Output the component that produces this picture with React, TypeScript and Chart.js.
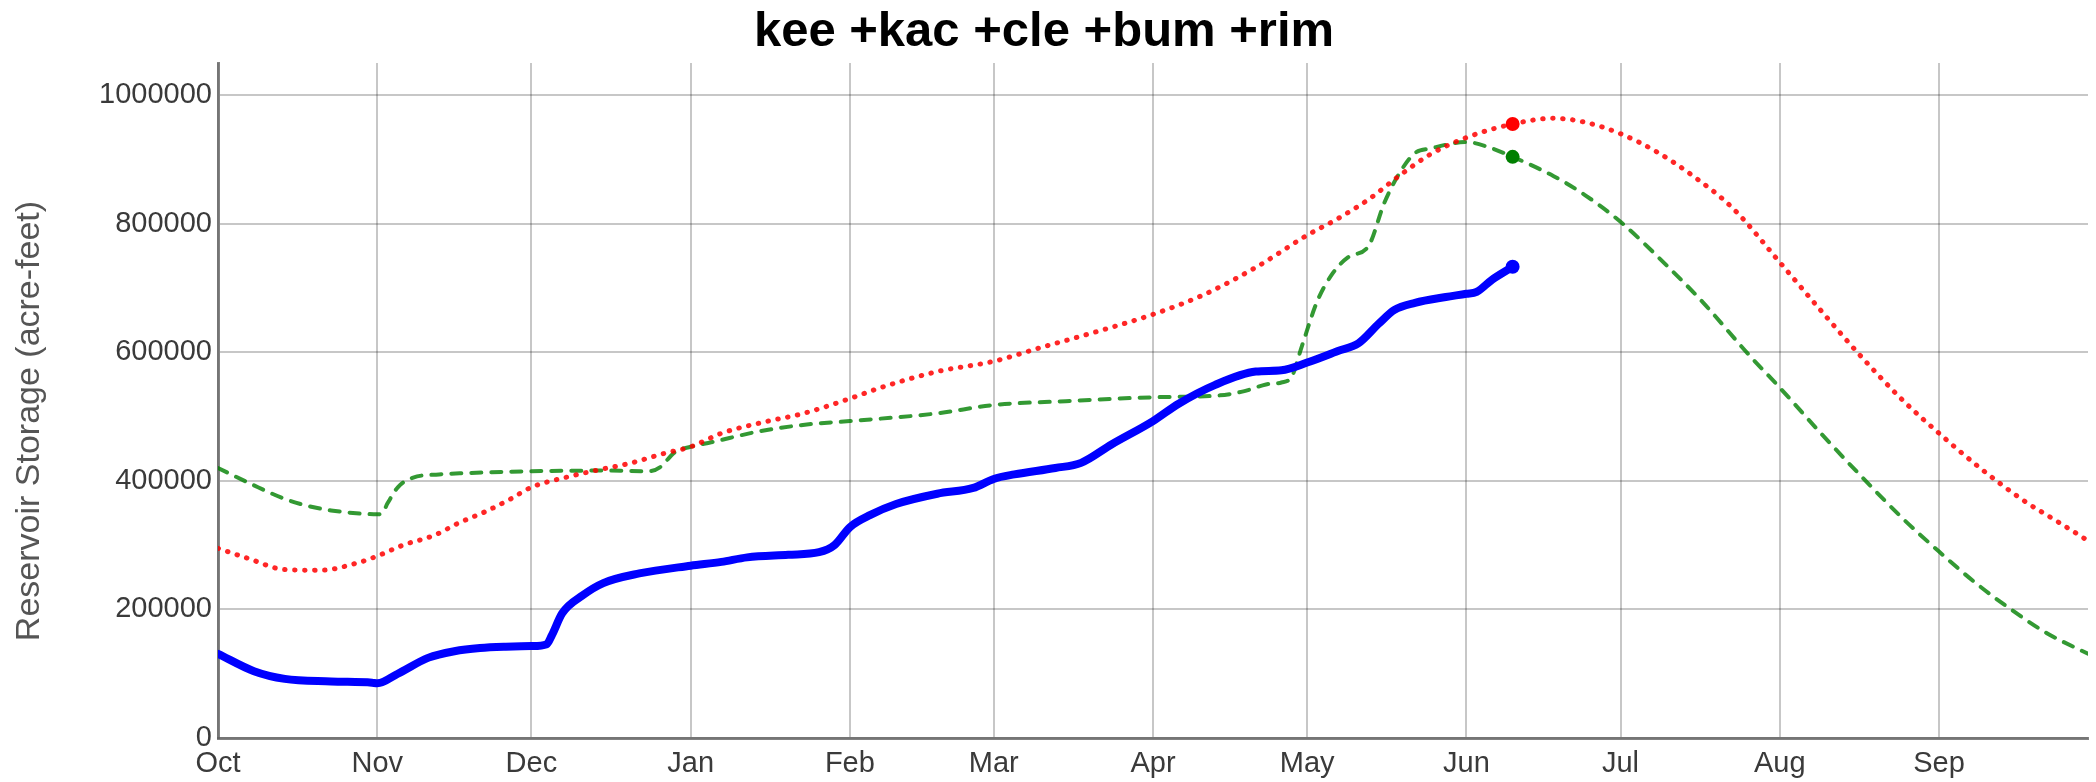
import React, { useEffect, useRef } from "react";
import { Chart, registerables } from "chart.js";

Chart.register(...registerables);

const titleText = "kee +kac +cle +bum +rim";
const yAxisTitle = "Reservoir Storage (acre-feet)";

// Water-year day index (Oct 1 = 0)
const monthStarts = [0, 31, 61, 92, 123, 151, 182, 212, 243, 273, 304, 335];
const monthLabels = ["Oct", "Nov", "Dec", "Jan", "Feb", "Mar", "Apr", "May", "Jun", "Jul", "Aug", "Sep"];
const yTicks = [0, 200000, 400000, 600000, 800000, 1000000];

// Current year (blue, solid)
const blueDays = [0, 7, 13, 22, 30, 31, 35, 41, 46, 51, 56, 61, 64, 65, 67, 71, 75, 82, 92, 98, 103, 111, 117, 120, 123, 127, 132, 140, 147, 151, 155, 163, 168, 174, 182, 187, 194, 202, 207, 212, 218, 222, 226, 229, 233, 239, 243, 245, 248, 252];
const blueValues = [131000, 104000, 92000, 88000, 86000, 85000, 100000, 125000, 135000, 140000, 142000, 143000, 146000, 160000, 194000, 222000, 241000, 256000, 268000, 274000, 281000, 285000, 289000, 300000, 328000, 347000, 364000, 380000, 389000, 403000, 410000, 420000, 428000, 457000, 493000, 520000, 549000, 570000, 572000, 584000, 602000, 614000, 645000, 666000, 677000, 686000, 691000, 694000, 713000, 733000];

// Average (red, dotted)
const redDays = [0, 6, 13, 20, 27, 31, 36, 42, 47, 52, 57, 61, 68, 74, 80, 87, 92, 98, 106, 114, 123, 129, 140, 151, 160, 171, 182, 192, 202, 212, 218, 224, 230, 236, 243, 252, 260, 266, 273, 280, 287, 295, 304, 312, 320, 328, 335, 343, 351, 359, 364];
const redValues = [295000, 279000, 262000, 261000, 272000, 283000, 300000, 315000, 335000, 352000, 372000, 390000, 406000, 417000, 427000, 443000, 453000, 474000, 491000, 505000, 528000, 545000, 570000, 586000, 607000, 632000, 659000, 690000, 732000, 782000, 808000, 838000, 875000, 908000, 934000, 955000, 964000, 958000, 940000, 912000, 875000, 823000, 740000, 665000, 592000, 525000, 474000, 420000, 372000, 332000, 307000];

// Comparison year (green, dashed)
const greenDays = [0, 7, 13, 17, 22, 28, 31, 32, 33, 35, 38, 43, 48, 61, 75, 84, 86, 89, 92, 96, 106, 115, 123, 140, 151, 165, 182, 195, 200, 204, 207, 209, 211, 214, 217, 220, 224, 227, 230, 233, 236, 243, 247, 252, 260, 266, 273, 282, 289, 298, 304, 312, 320, 328, 335, 342, 349, 356, 364];
const greenValues = [420000, 393000, 372000, 362000, 354000, 349000, 348000, 350000, 365000, 390000, 405000, 410000, 412000, 415000, 416000, 415000, 421000, 445000, 453000, 460000, 478000, 488000, 493000, 505000, 518000, 524000, 530000, 533000, 540000, 550000, 553000, 562000, 610000, 680000, 723000, 748000, 766000, 832000, 879000, 910000, 917000, 927000, 920000, 904000, 874000, 845000, 803000, 735000, 678000, 596000, 545000, 474000, 406000, 341000, 290000, 242000, 200000, 163000, 131000];

const FONT = "'Liberation Sans', Arial, Helvetica, sans-serif";

function toPoints(days: number[], values: number[]) {
  return days.map((d, i) => ({ x: d, y: values[i] }));
}

const yTitlePlugin = {
  id: "yTitlePlugin",
  afterDraw(chart: any) {
    const ctx = chart.ctx;
    ctx.save();
    ctx.translate(30, 421);
    ctx.rotate(-Math.PI / 2);
    ctx.font = `34px ${FONT}`;
    ctx.fillStyle = "#555";
    ctx.textAlign = "center";
    ctx.textBaseline = "middle";
    ctx.fillText(yAxisTitle, 0, 0);
    ctx.restore();
  },
};

export default function App() {
  const ref = useRef<HTMLCanvasElement>(null);

  useEffect(() => {
    document.body.style.margin = "0";
    const markerDay = blueDays[blueDays.length - 1];
    const markers = [
      { x: markerDay, y: redValues[redDays.indexOf(markerDay)] },
      { x: markerDay, y: greenValues[greenDays.indexOf(markerDay)] },
      { x: markerDay, y: blueValues[blueValues.length - 1] },
    ];

    const chart = new Chart(ref.current as HTMLCanvasElement, {
      type: "line",
      data: {
        datasets: [
          {
            label: "markers",
            data: markers,
            showLine: false,
            pointRadius: 7,
            pointHoverRadius: 7,
            pointBorderWidth: 0,
            pointBackgroundColor: ["#ff0000", "#008000", "#0000ff"],
            borderColor: "transparent",
          },
          {
            label: "current",
            data: toPoints(blueDays, blueValues),
            borderColor: "#0000ff",
            borderWidth: 8,
            pointRadius: 0,
            cubicInterpolationMode: "monotone",
            borderCapStyle: "round",
            borderJoinStyle: "round",
          },
          {
            label: "average",
            data: toPoints(redDays, redValues),
            borderColor: "rgba(255,0,0,0.85)",
            borderWidth: 5,
            borderDash: [0.5, 9.5],
            borderCapStyle: "round",
            pointRadius: 0,
            cubicInterpolationMode: "monotone",
          },
          {
            label: "comparison",
            data: toPoints(greenDays, greenValues),
            borderColor: "rgba(0,128,0,0.8)",
            borderWidth: 4,
            borderDash: [10, 10],
            borderCapStyle: "round",
            pointRadius: 0,
            cubicInterpolationMode: "monotone",
          },
        ],
      },
      options: {
        responsive: false,
        animation: false,
        layout: { padding: { left: 0, right: 8, top: 0, bottom: 0 } },
        plugins: {
          legend: { display: false },
          tooltip: { enabled: false },
          title: {
            display: true,
            text: titleText,
            color: "#000",
            font: { family: FONT, size: 49, weight: "bold" },
            padding: { top: 3, bottom: 1.2 },
          },
        },
        scales: {
          x: {
            type: "linear",
            min: 0,
            max: 364,
            afterBuildTicks: (scale: any) => {
              scale.ticks = monthStarts.map((v) => ({ value: v }));
            },
            afterFit: (scale: any) => {
              scale.height = 44;
            },
            ticks: {
              autoSkip: false,
              maxRotation: 0,
              padding: 9,
              color: "#3a3a3a",
              font: { family: FONT, size: 29 },
              callback: (v: any) => monthLabels[monthStarts.indexOf(Number(v))] ?? "",
            },
            grid: { color: "rgba(0,0,0,0.22)", lineWidth: 2, drawTicks: false },
            border: { color: "rgba(90,90,90,0.75)", width: 3 },
          },
          y: {
            min: 0,
            max: 1050000,
            afterBuildTicks: (scale: any) => {
              scale.ticks = yTicks.map((v) => ({ value: v }));
            },
            afterFit: (scale: any) => {
              scale.width = 218;
            },
            ticks: {
              padding: 6,
              color: "#3a3a3a",
              font: { family: FONT, size: 29 },
              callback: (v: any) => String(v),
            },
            grid: { color: "rgba(0,0,0,0.22)", lineWidth: 2, drawTicks: false },
            border: { color: "rgba(90,90,90,0.75)", width: 3 },
          },
        },
      },
      plugins: [yTitlePlugin],
    } as any);

    return () => chart.destroy();
  }, []);

  return (
    <div style={{ width: 2096, height: 782 }}>
      <canvas ref={ref} width={2096} height={782} style={{ display: "block" }} />
    </div>
  );
}
